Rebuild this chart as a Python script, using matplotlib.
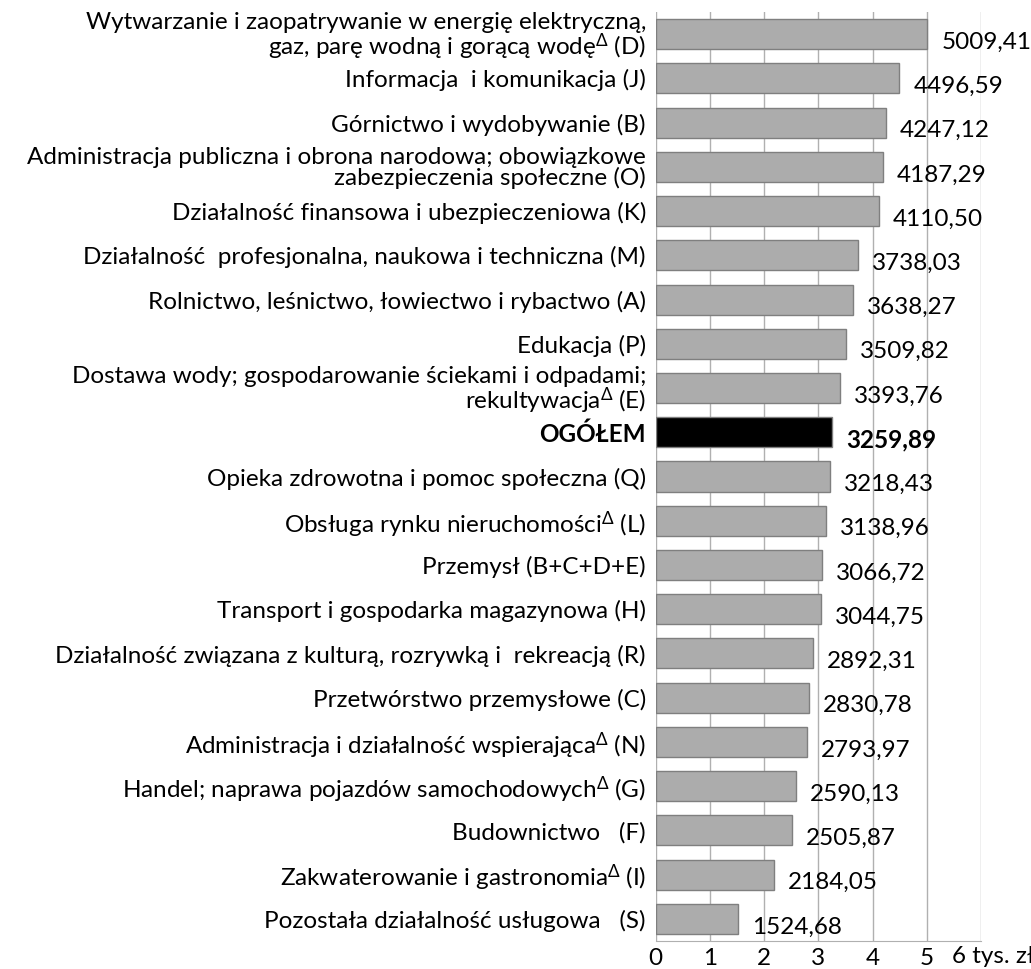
import matplotlib
matplotlib.use("Agg")
import matplotlib.pyplot as plt
import numpy as np

plt.rcParams["font.family"] = ["Lato", "DejaVu Sans"]
plt.rcParams["mathtext.fontset"] = "custom"
plt.rcParams["mathtext.rm"] = "Lato"
plt.rcParams["mathtext.it"] = "Lato"

D = r"$^{\Delta}$"
categories = [
    "Wytwarzanie i zaopatrywanie w energię elektryczną,\ngaz, parę wodną i gorącą wodę" + D + " (D)",
    "Informacja  i komunikacja (J)",
    "Górnictwo i wydobywanie (B)",
    "Administracja publiczna i obrona narodowa; obowiązkowe\nzabezpieczenia społeczne (O)",
    "Działalność finansowa i ubezpieczeniowa (K)",
    "Działalność  profesjonalna, naukowa i techniczna (M)",
    "Rolnictwo, leśnictwo, łowiectwo i rybactwo (A)",
    "Edukacja (P)",
    "Dostawa wody; gospodarowanie ściekami i odpadami;\nrekultywacja" + D + " (E)",
    "OGÓŁEM",
    "Opieka zdrowotna i pomoc społeczna (Q)",
    "Obsługa rynku nieruchomości" + D + " (L)",
    "Przemysł (B+C+D+E)",
    "Transport i gospodarka magazynowa (H)",
    "Działalność związana z kulturą, rozrywką i  rekreacją (R)",
    "Przetwórstwo przemysłowe (C)",
    "Administracja i działalność wspierająca" + D + " (N)",
    "Handel; naprawa pojazdów samochodowych" + D + " (G)",
    "Budownictwo   (F)",
    "Zakwaterowanie i gastronomia" + D + " (I)",
    "Pozostała działalność usługowa   (S)",
]
values = [5009.41, 4496.59, 4247.12, 4187.29, 4110.50, 3738.03, 3638.27,
          3509.82, 3393.76, 3259.89, 3218.43, 3138.96, 3066.72, 3044.75,
          2892.31, 2830.78, 2793.97, 2590.13, 2505.87, 2184.05, 1524.68]
total_label = "OGÓŁEM"
xticks = [0, 1, 2, 3, 4, 5, 6]
xticklabels = ["0", "1", "2", "3", "4", "5", ""]
unit_label = "6 tys. zł"

FS = 17.5

fig = plt.figure(figsize=(10.31, 9.69), dpi=100)
ax = fig.add_axes([0.636, 0.0289, 0.3155, 0.9587])

y = np.arange(len(categories))
vals_k = np.array(values) / 1000.0
colors = ["black" if c == total_label else "#acacac" for c in categories]
ax.barh(y, vals_k, height=0.68, color=colors, edgecolor="#7f7f7f", linewidth=1.0, zorder=3)

# value labels, right of bar end and a bit lower
for yi, v, c in zip(y, values, categories):
    bold = c == total_label
    txt = f"{v:.2f}".replace(".", ",")
    ax.annotate(txt, (v / 1000.0, yi), xytext=(14, -8), textcoords="offset pixels",
                ha="left", va="center", fontsize=FS,
                fontweight="bold" if bold else "normal", zorder=4,
                annotation_clip=False)

ax.set_xlim(0, 6)
ax.set_ylim(len(categories) - 0.5, -0.5)
ax.set_yticks(y)
ax.set_yticklabels(categories, fontsize=FS, linespacing=0.95)
for lbl in ax.get_yticklabels():
    if lbl.get_text() == total_label:
        lbl.set_fontweight("bold")
ax.set_xticks(xticks)
ax.set_xticklabels(xticklabels, fontsize=FS)
ax.tick_params(axis="y", length=0, pad=7)
ax.tick_params(axis="x", length=0, pad=5)

# unit label in place of the last tick
ax.annotate(unit_label, (6, 0), xycoords=("data", "axes fraction"),
            xytext=(-29, -5), textcoords="offset pixels",
            ha="left", va="top", fontsize=FS, annotation_clip=False)

ax.grid(axis="x", color="#b0b0b0", linewidth=1.0, zorder=0)
for s in ["top", "right", "left"]:
    ax.spines[s].set_visible(False)
ax.spines["bottom"].set_color("#b0b0b0")

fig.savefig("out.png", dpi=100)
